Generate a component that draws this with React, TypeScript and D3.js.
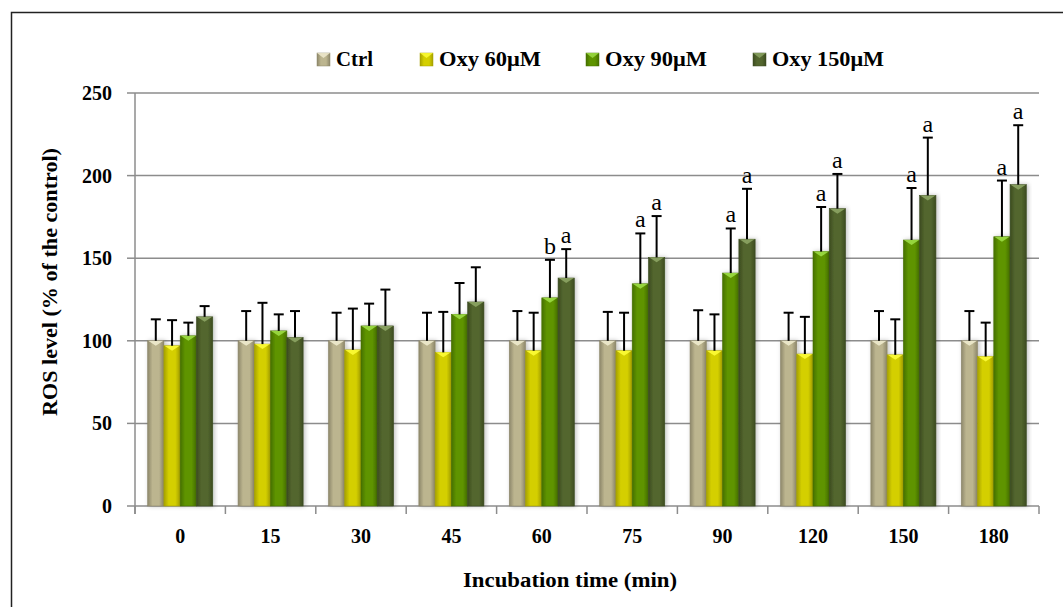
import React from "react";
import * as d3 from "d3";

// incubation times (min)
const categories = ["0", "15", "30", "45", "60", "75", "90", "120", "150", "180"];
const seriesNames = ["Ctrl", "Oxy 60μM", "Oxy 90μM", "Oxy 150μM"];

// ROS level, % of the control
const ctrlValues = [100, 100, 100, 100, 100, 100, 100, 100, 100, 100];
const oxy60Values = [97, 98, 94.5, 93, 94, 94, 94, 92, 91.5, 90.5];
const oxy90Values = [103, 106, 109, 116, 126, 134.5, 141, 154, 161, 163];
const oxy150Values = [114.5, 102, 109, 123.5, 138, 150.5, 161.5, 180, 188, 194.5];

// standard deviations (upper error bars)
const ctrlErr = [13, 18, 17, 17, 18, 17.5, 18.5, 17, 18, 18];
const oxy60Err = [15.5, 25, 25, 24.5, 23, 23, 22, 22.5, 21.5, 20.5];
const oxy90Err = [8, 10, 13.5, 19, 23, 30.5, 27, 27, 31.5, 34];
const oxy150Err = [6.5, 16, 22, 21, 17.5, 25, 30.5, 21, 35, 36];

// significance letters
const ctrlSig = ["", "", "", "", "", "", "", "", "", ""];
const oxy60Sig = ["", "", "", "", "", "", "", "", "", ""];
const oxy90Sig = ["", "", "", "", "b", "a", "a", "a", "a", "a"];
const oxy150Sig = ["", "", "", "", "a", "a", "a", "a", "a", "a"];

const yTicks = [0, 50, 100, 150, 200, 250];

const values = [ctrlValues, oxy60Values, oxy90Values, oxy150Values];
const errors = [ctrlErr, oxy60Err, oxy90Err, oxy150Err];
const sigs = [ctrlSig, oxy60Sig, oxy90Sig, oxy150Sig];

// base, edge, highlight (top bevel)
const palette = [
  { mid: "#bcb58f", edge: "#8d876a", top: "#f2eed2" },
  { mid: "#d4cf00", edge: "#a6a100", top: "#ffff3a" },
  { mid: "#5e9400", edge: "#467000", top: "#a0e048" },
  { mid: "#53662e", edge: "#3c4b20", top: "#8fa866" },
];

const serif = "'Liberation Serif', 'Times New Roman', serif";

const App = () => {
  const width = 1063;
  const height = 607;
  const left = 135;
  const right = 1039;

  const x0 = d3
    .scaleBand<string>()
    .domain(categories)
    .range([left, right])
    .paddingInner(0.28)
    .paddingOuter(0.14);
  const x1 = d3
    .scaleBand<string>()
    .domain(seriesNames)
    .range([0, x0.bandwidth()])
    .padding(0);
  const y = d3.scaleLinear().domain([0, 250]).range([506, 93]);

  const step = x0.step();
  const bw = x1.bandwidth();

  // legend positions (square left x)
  const legendX = [317, 420, 586, 753];
  const legendLen = [37, 102, 102, 112];

  return (
    <svg
      width={width}
      height={height}
      style={{ position: "absolute", left: 0, top: 0, background: "#fff" }}
    >
      <defs>
        {palette.map((p, i) => (
          <linearGradient key={i} id={`g${i}`} x1="0" x2="1" y1="0" y2="0">
            <stop offset="0" stopColor={p.edge} />
            <stop offset="0.3" stopColor={p.mid} />
            <stop offset="0.7" stopColor={p.mid} />
            <stop offset="1" stopColor={p.edge} />
          </linearGradient>
        ))}
        <filter id="shadow" x="-30%" y="-10%" width="160%" height="120%">
          <feDropShadow dx="1.5" dy="0" stdDeviation="2" floodColor="#000" floodOpacity="0.25" />
        </filter>
      </defs>

      {/* outer frame */}
      <path d={`M11.5,${height + 5} V12.5 H${width + 5}`} fill="none" stroke="#222" strokeWidth={1.5} />

      {/* legend */}
      {seriesNames.map((s, i) => (
        <g key={s}>
          <rect x={legendX[i]} y={53} width={13} height={13} fill={`url(#g${i})`} stroke={palette[i].edge} strokeWidth={0.5} />
          <path
            d={`M${legendX[i]},53 H${legendX[i] + 13} L${legendX[i] + 6.5},58 Z`}
            fill={palette[i].top}
            opacity={0.8}
          />
          <text
            x={legendX[i] + 19}
            y={66}
            fontFamily={serif}
            fontWeight="bold"
            fontSize={20}
            textLength={legendLen[i]}
            lengthAdjust="spacingAndGlyphs"
          >
            {s}
          </text>
        </g>
      ))}

      {/* gridlines */}
      {yTicks.map((t) => (
        <g key={t}>
          <line x1={left} x2={right} y1={y(t)} y2={y(t)} stroke="#8c8c8c" strokeWidth={1.5} />
          <line x1={127} x2={left} y1={y(t)} y2={y(t)} stroke="#8c8c8c" strokeWidth={1.5} />
          <text
            x={112}
            y={y(t) + 7}
            textAnchor="end"
            fontFamily={serif}
            fontWeight="bold"
            fontSize={20}
          >
            {t}
          </text>
        </g>
      ))}

      {/* axes */}
      <line x1={left} x2={left} y1={y(250)} y2={y(0) + 8} stroke="#8c8c8c" strokeWidth={1.5} />
      {d3.range(categories.length + 1).map((i) => (
        <line
          key={i}
          x1={left + i * step}
          x2={left + i * step}
          y1={y(0)}
          y2={y(0) + 8}
          stroke="#8c8c8c"
          strokeWidth={1.5}
        />
      ))}

      {/* bars */}
      {categories.map((c, ci) => (
        <g key={c} transform={`translate(${x0(c)},0)`}>
          {seriesNames.map((s, si) => {
            const v = values[si][ci];
            const bx = x1(s)!;
            const top = y(v);
            return (
              <g key={s}>
                <rect
                  x={bx}
                  y={top}
                  width={bw}
                  height={y(0) - top}
                  fill={`url(#g${si})`}
                  stroke={palette[si].edge}
                  strokeWidth={0.6}
                  filter="url(#shadow)"
                />
                <path
                  d={`M${bx + 0.5},${top} H${bx + bw - 0.5} L${bx + bw / 2},${top + 5} Z`}
                  fill={palette[si].top}
                  opacity={0.85}
                />
              </g>
            );
          })}
        </g>
      ))}

      {/* error bars and letters */}
      {categories.map((c, ci) => (
        <g key={c} transform={`translate(${x0(c)},0)`}>
          {seriesNames.map((s, si) => {
            const v = values[si][ci];
            const e = errors[si][ci];
            const cx = x1(s)! + bw / 2;
            const yt = y(v + e);
            return (
              <g key={s}>
                <line x1={cx} x2={cx} y1={y(v)} y2={yt} stroke="#000" strokeWidth={2} />
                <line x1={cx - 5} x2={cx + 5} y1={yt} y2={yt} stroke="#000" strokeWidth={2} />
                {sigs[si][ci] && (
                  <text
                    x={cx}
                    y={yt - 6}
                    textAnchor="middle"
                    fontFamily={serif}
                    fontSize={24}
                  >
                    {sigs[si][ci]}
                  </text>
                )}
              </g>
            );
          })}
        </g>
      ))}

      {/* x tick labels */}
      {categories.map((c) => (
        <text
          key={c}
          x={x0(c)! + x0.bandwidth() / 2}
          y={543}
          textAnchor="middle"
          fontFamily={serif}
          fontWeight="bold"
          fontSize={20}
        >
          {c}
        </text>
      ))}

      {/* axis titles */}
      <text
        x={570}
        y={587}
        textAnchor="middle"
        fontFamily={serif}
        fontWeight="bold"
        fontSize={20}
        textLength={214}
        lengthAdjust="spacingAndGlyphs"
      >
        Incubation time (min)
      </text>
      <text
        transform="translate(57,282) rotate(-90)"
        textAnchor="middle"
        fontFamily={serif}
        fontWeight="bold"
        fontSize={20}
        textLength={268}
        lengthAdjust="spacingAndGlyphs"
      >
        ROS level (% of the control)
      </text>
    </svg>
  );
};

export default App;
